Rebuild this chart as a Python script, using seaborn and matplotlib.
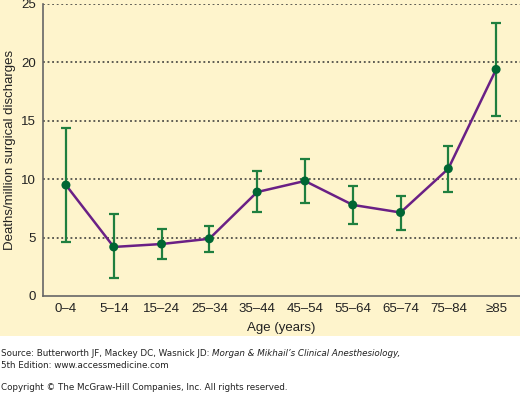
import matplotlib
matplotlib.use("Agg")
import matplotlib.pyplot as plt
import pandas as pd
import seaborn as sns
from matplotlib.patches import Rectangle

# values
ages = ["0\u20134", "5\u201314", "15\u201324", "25\u201334", "35\u201344",
        "45\u201354", "55\u201364", "65\u201374", "75\u201384", "\u226585"]
deaths = [9.5, 4.2, 4.45, 4.9, 8.9, 9.85, 7.8, 7.15, 10.9, 19.4]
upper = [14.4, 7.0, 5.7, 6.0, 10.7, 11.7, 9.45, 8.6, 12.8, 23.4]
lower = [4.6, 1.5, 3.2, 3.8, 7.2, 8.0, 6.2, 5.65, 8.9, 15.4]
yticks = [0, 5, 10, 15, 20, 25]

cream = "#fef4cc"
purple = "#6a2085"
green = "#1f7f3f"
dot = "#006633"

sns.set_theme(style="white")
plt.rcParams['font.family'] = ['Liberation Sans', 'DejaVu Sans']

df = pd.DataFrame({"pos": range(len(ages)), "age": ages, "deaths": deaths,
                   "lo": [d - l for d, l in zip(deaths, lower)],
                   "hi": [u - d for u, d in zip(upper, deaths)]})

fig = plt.figure(figsize=(5.2, 3.93), dpi=100)
fig.patches.append(Rectangle((0, 1 - 336 / 393), 1, 336 / 393, transform=fig.transFigure,
                             facecolor=cream, edgecolor="none", zorder=-10))
ax = fig.add_axes([43 / 520, 1 - 296 / 393, 1 - 43 / 520, 292 / 393])
ax.set_facecolor(cream)

for y in yticks[1:]:
    ax.axhline(y, color="#333333", lw=1.1, ls=(0, (1.2, 1.8)), zorder=1)

ax.errorbar(df["pos"], df["deaths"], yerr=[df["lo"], df["hi"]], fmt="none",
            ecolor=green, elinewidth=1.6, capsize=3.5, capthick=1.6, zorder=2)
sns.lineplot(data=df, x="pos", y="deaths", color=purple, lw=1.8, ax=ax, zorder=3)
sns.scatterplot(data=df, x="pos", y="deaths", color=dot, s=42, edgecolor="none",
                ax=ax, zorder=4)

ax.set_xlim(-0.48, 9.5)
ax.set_ylim(0, 25)
ax.set_yticks(yticks)
ax.set_xticks(range(len(ages)))
ax.set_xticklabels(ages)
ax.tick_params(length=0, labelsize=9.5, colors="#222222", pad=5)
for s in ["top", "right"]:
    ax.spines[s].set_visible(False)
for s in ["left", "bottom"]:
    ax.spines[s].set_color("#666666")
    ax.spines[s].set_linewidth(1.2)
ax.set_xlabel("Age (years)", fontsize=9.5, color="#222222", labelpad=5)
ax.set_ylabel("Deaths/million surgical discharges", fontsize=9.5, color="#222222", labelpad=4)

# source / copyright block under the chart
src_kw = dict(fontsize=6.3, family="DejaVu Sans", va="center", color="#222222")
y1 = 1 - 354 / 393
t = fig.text(0.002, y1, "Source: Butterworth JF, Mackey DC, Wasnick JD: ", **src_kw)
fig.text(0.002, 1 - 366 / 393, "5th Edition: www.accessmedicine.com", **src_kw)
fig.text(0.002, 1 - 388 / 393, "Copyright \u00a9 The McGraw-Hill Companies, Inc. All rights reserved.", **src_kw)
fig.canvas.draw()
x_end = t.get_window_extent().x1 / fig.bbox.width
fig.text(x_end, y1, "Morgan & Mikhail\u2019s Clinical Anesthesiology,", style="italic", **src_kw)

fig.savefig("out.png", dpi=100, facecolor="white")
